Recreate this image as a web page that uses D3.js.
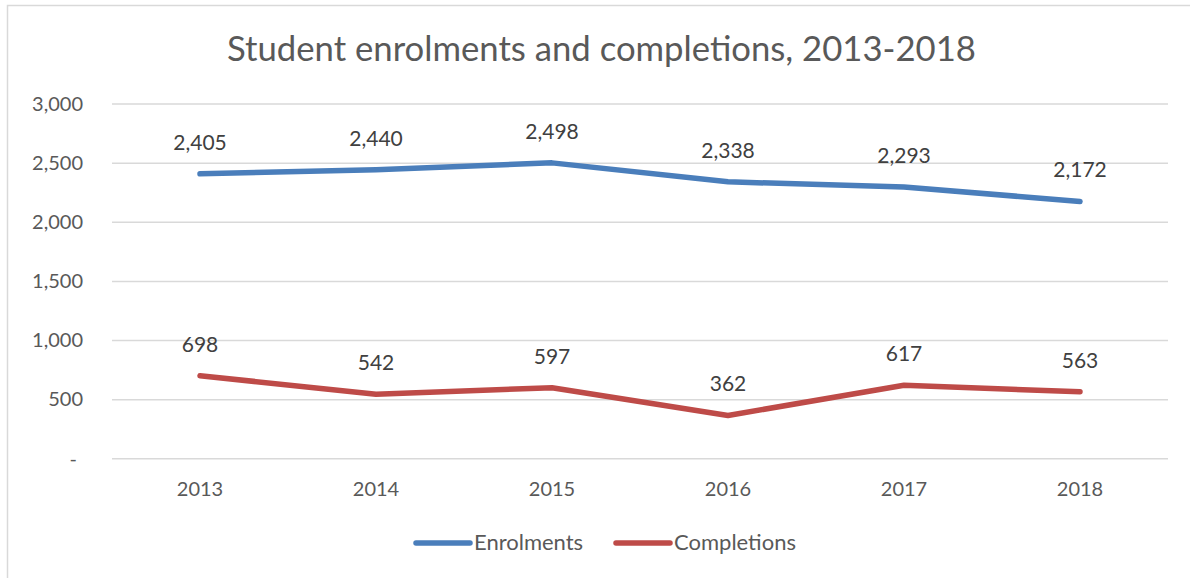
<!DOCTYPE html>
<html>
<head>
<meta charset="utf-8">
<script src="https://cdn.jsdelivr.net/npm/d3@7"></script>
<style>
  html, body { margin: 0; padding: 0; background: #fff; }
  svg { display: block; }
  text { font-family: Lato, "Open Sans", sans-serif; }
</style>
</head>
<body>
<script>
// Chart data
const years = ["2013", "2014", "2015", "2016", "2017", "2018"];
const enrolments = [2405, 2440, 2498, 2338, 2293, 2172];
const completions = [698, 542, 597, 362, 617, 563];
const yTicks = [0, 500, 1000, 1500, 2000, 2500, 3000];
const seriesNames = ["Enrolments", "Completions"];
const seriesColors = ["#4a7ebb", "#be4b48"];

const W = 1190, H = 578;
const plot = { left: 112, right: 1168, top: 103.5, bottom: 458.3 };

const svg = d3.select("body").append("svg")
  .attr("width", W).attr("height", H);

// Chart frame (extends past right/bottom edges)
svg.append("rect")
  .attr("x", 7.5).attr("y", 5.5)
  .attr("width", W + 20).attr("height", H + 20)
  .attr("fill", "#fff").attr("stroke", "#d9d9d9").attr("stroke-width", 1.5);

// Title
svg.append("text")
  .attr("x", 601.5).attr("y", 60.5)
  .attr("text-anchor", "middle")
  .attr("fill", "#595959")
  .style("font-size", "34.7px")
  .style("font-weight", 400)
  .text("Student enrolments and completions, 2013-2018");

const x = d3.scaleBand().domain(years).range([plot.left, plot.right]);
const y = d3.scaleLinear().domain([0, 3000]).range([plot.bottom, plot.top]);
const fmt = d3.format(",");

// Gridlines and y-axis labels
const yAxis = d3.axisLeft(y).tickValues(yTicks)
  .tickSize(-(plot.right - plot.left))
  .tickPadding(29)
  .tickFormat(d => d === 0 ? "-" : fmt(d));
const gy = svg.append("g").attr("transform", `translate(${plot.left},0)`).call(yAxis);
gy.select(".domain").remove();
gy.selectAll(".tick line").attr("stroke", "#d9d9d9").attr("stroke-width", 1.5);
gy.selectAll(".tick text").attr("fill", "#595959").style("font-size", "20px")
  .attr("dy", "0.34em");
gy.selectAll(".tick text").filter(d => d === 0).attr("dx", -6);

// X-axis labels
const xAxis = d3.axisBottom(x).tickSize(0).tickPadding(24);
const gx = svg.append("g").attr("transform", `translate(0,${plot.bottom})`).call(xAxis);
gx.select(".domain").remove();
gx.selectAll(".tick text").attr("fill", "#595959").style("font-size", "20px");

const cx = d => x(d) + x.bandwidth() / 2;
const line = d3.line().x((d, i) => cx(years[i])).y(d => y(d));

[enrolments, completions].forEach((vals, si) => {
  svg.append("path")
    .datum(vals)
    .attr("d", line)
    .attr("fill", "none")
    .attr("stroke", seriesColors[si])
    .attr("stroke-width", 5.5)
    .attr("stroke-linecap", "round")
    .attr("stroke-linejoin", "round");

  svg.selectAll(null).data(vals).enter().append("text")
    .attr("x", (d, i) => cx(years[i]))
    .attr("y", d => y(d) - 24)
    .attr("text-anchor", "middle")
    .attr("fill", "#404040")
    .style("font-size", "21px")
    .text(d => fmt(d));
});

// Legend
const legendItems = [{ x: 416, name: seriesNames[0] }, { x: 616, name: seriesNames[1] }];
legendItems.forEach((it, i) => {
  svg.append("line")
    .attr("x1", it.x).attr("x2", it.x + 54)
    .attr("y1", 543).attr("y2", 543)
    .attr("stroke", seriesColors[i]).attr("stroke-width", 5.5)
    .attr("stroke-linecap", "round");
  svg.append("text")
    .attr("x", it.x + 58).attr("y", 550)
    .attr("fill", "#595959")
    .style("font-size", "22px")
    .text(it.name);
});
</script>
</body>
</html>
